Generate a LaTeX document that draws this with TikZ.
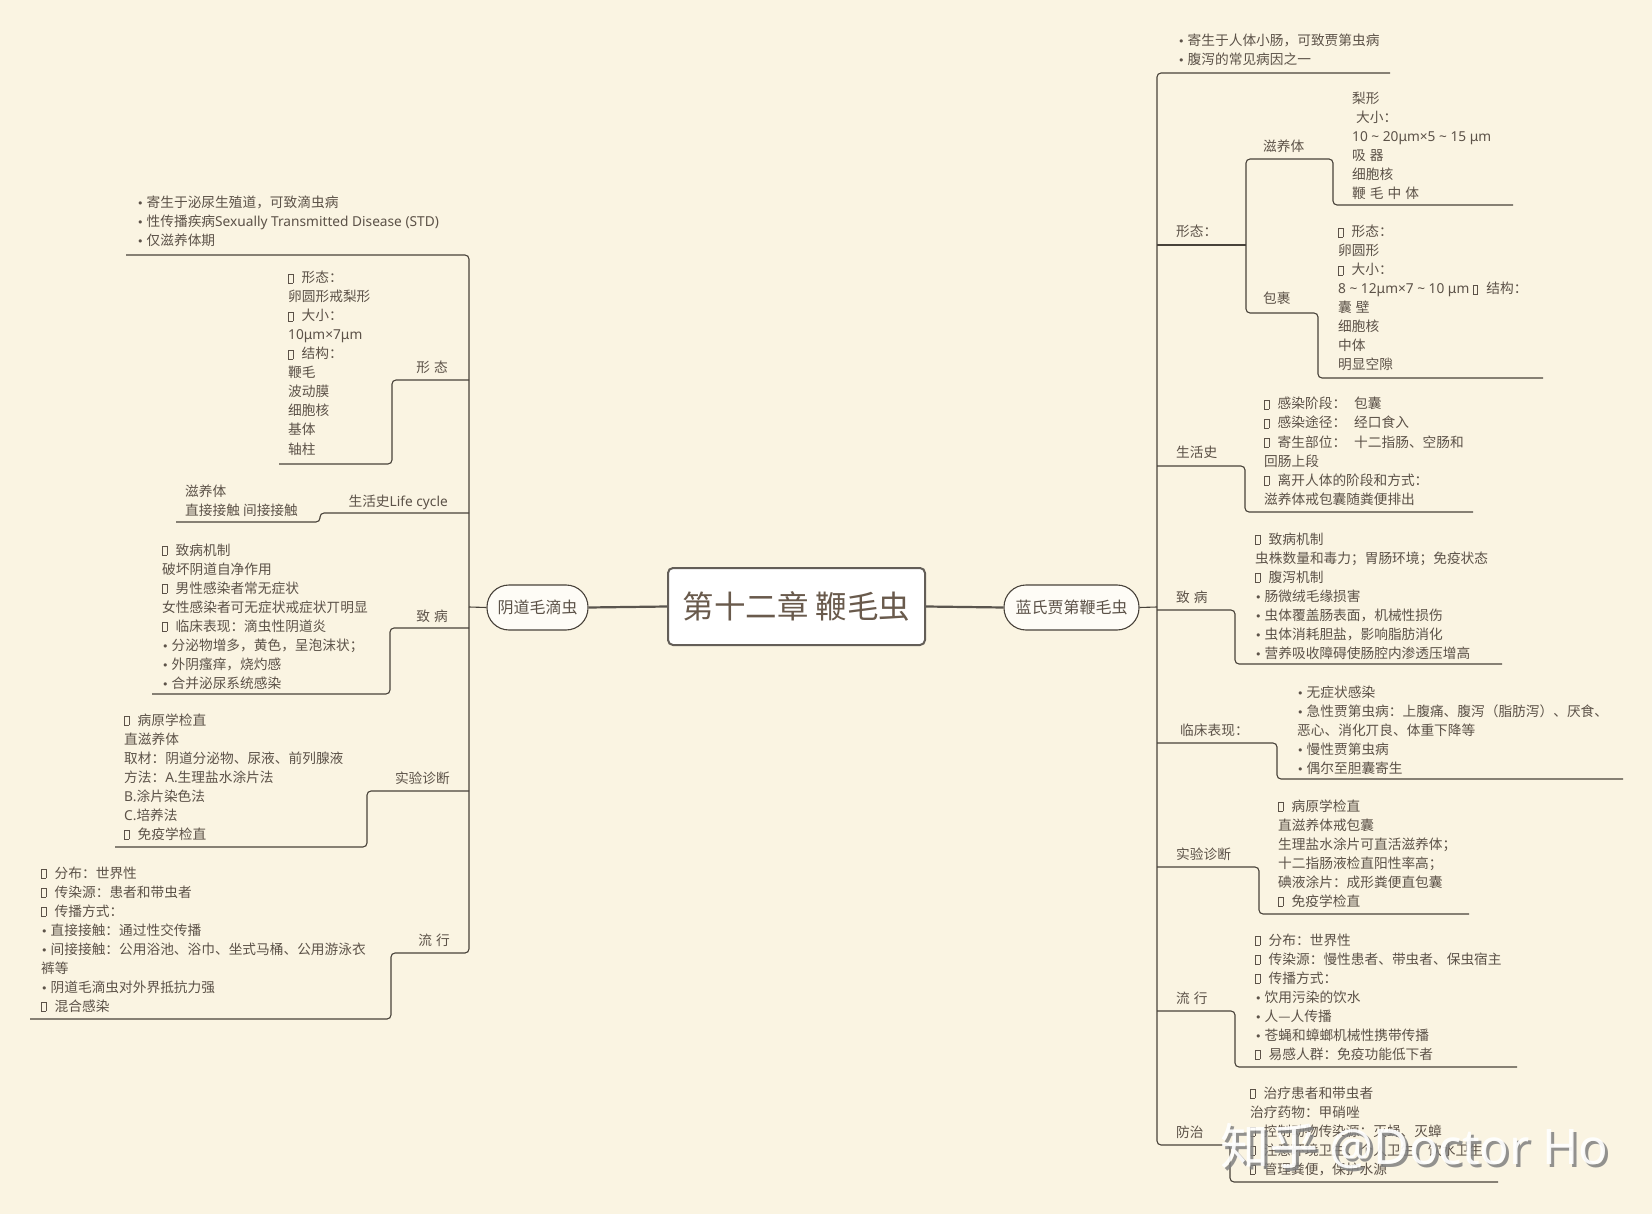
\documentclass[tikz,border=0pt]{standalone}
\usepackage{fontspec}
\setmainfont{Noto Sans CJK SC}
\newfontfamily\dvs{DejaVu Sans}
\newfontfamily\ns{Noto Sans}
\definecolor{bg}{RGB}{250,244,226}
\definecolor{ink}{RGB}{92,82,72}
\definecolor{ln}{RGB}{72,66,58}
\definecolor{ctext}{RGB}{105,90,76}
\newcommand\sqbox{{\setlength\fboxsep{0pt}\setlength\fboxrule{0.5pt}\fbox{\rule{0pt}{8.5pt}\hspace{4pt}}}\hspace{8.5pt}}
\newcommand\bul{{\dvs\fontsize{11}{11}\selectfont •}\hspace{3pt}}
\newcommand\tb[4]{\foreach \s [count=\i] in {#4} {\node[txt] (#1\i) at (#2,{#3+5+19*(\i-1)}) {\s};}}
\tikzset{
  txt/.style={anchor=base west, inner sep=0pt, text=ink, font=\fontsize{13.7}{19}\selectfont},
  lblw/.style={txt},
  lble/.style={txt, anchor=base east},
  br/.style={draw=ln, line width=1.1pt, rounded corners=4pt},
  thick link/.style={draw=ln!90, line width=2.2pt},
  pill/.style={draw=ln, line width=1.1pt, fill=white!70!bg, rounded corners=22pt, minimum width=101pt, minimum height=45pt, inner sep=0pt, text=ink, font=\fontsize{16}{16}\selectfont},
}
\begin{document}
\begin{tikzpicture}[x=1pt, y=-1pt]
\fill[bg] (0,0) rectangle (1652,1214);
\useasboundingbox (0,0) rectangle (1652,1214);

% ---------- central and first-level nodes ----------
\node[draw=ln!85, line width=2pt, fill=white, rounded corners=5pt, minimum width=257pt, minimum height=77pt, inner sep=0pt, text=ctext, font=\fontsize{31.5}{31.5}\selectfont] (root) at (796.5,606.5) {第十二章 鞭毛虫};
\node[pill] (left) at (537.5,607.5) {阴道毛滴虫};
\node[pill, minimum width=135pt] (right) at (1071.5,607.5) {蓝氏贾第鞭毛虫};
\draw[thick link] (root.west) -- (left.east);
\draw[thick link] (root.east) -- (right.east -| right.west);

% ---------- left branch lines ----------
\coordinate (lhub) at (469,607);
\draw[br] (left.west) -- (lhub);
\draw[br] (126,255) -- (469,255) -- (469,953) -- (391,953) -- (391,1019) -- (30,1019);
\draw[br] (469,380) -- (392,380) -- (392,464) -- (279,464);
\draw[br] (469,513) -- (320,513) -- (320,522) -- (176,522);
\draw[br] (469,628) -- (390,628) -- (390,694) -- (152,694);
\draw[br] (469,791) -- (367,791) -- (367,847) -- (115,847);

% ---------- right branch lines ----------
\coordinate (rhub) at (1157,607);
\draw[br] (right.east) -- (rhub);
\draw[br] (1390,73) -- (1157,73) -- (1157,1145) -- (1230,1145) -- (1230,1182) -- (1498,1182);
\draw[br] (1157,245) -- (1246,245);
\draw[br] (1513,205) -- (1333,205) -- (1333,159) -- (1246,159) -- (1246,313) -- (1318,313) -- (1318,378) -- (1543,378);
\draw[br] (1157,466) -- (1245,466) -- (1245,512) -- (1473,512);
\draw[br] (1157,610) -- (1235,610) -- (1235,664) -- (1502,664);
\draw[br] (1157,743) -- (1277,743) -- (1277,779) -- (1623,779);
\draw[br] (1157,867) -- (1259,867) -- (1259,914) -- (1469,914);
\draw[br] (1157,1011) -- (1235,1011) -- (1235,1067) -- (1517,1067);

% ---------- left labels ----------
\node[lble] (lxt) at (448,373) {形\hspace{4pt}态};
\node[lble] (lsh) at (448,506) {生活史{\ns Life cycle}};
\node[lble] (lzb) at (448,621) {致\hspace{4pt}病};
\node[lble] (lsy) at (450,783) {实验诊断};
\node[lble] (llx) at (450,945) {流\hspace{4pt}行};

% ---------- left texts ----------
\tb{la}{137}{203}{{\bul 寄生于泌尿生殖道，可致滴虫病},{\bul 性传播疾病{\ns Sexually Transmitted Disease (STD)}},{\bul 仅滋养体期}}
\tb{lb}{288}{278}{{\sqbox 形态：},{卵圆形戒梨形},{\sqbox 大小：},{{\ns 10μm×7μm}},{\sqbox 结构：},{鞭毛},{波动膜},{细胞核},{基体},{轴柱}}
\tb{lc}{185}{491}{{滋养体},{直接接触 间接接触}}
\tb{ld}{162}{550}{{\sqbox 致病机制},{破坏阴道自净作用},{\sqbox 男性感染者常无症状},{女性感染者可无症状戒症状丌明显},{\sqbox 临床表现：滴虫性阴道炎},{\bul 分泌物增多，黄色，呈泡沫状；},{\bul 外阴瘙痒，烧灼感},{\bul 合并泌尿系统感染}}
\tb{le}{124}{720}{{\sqbox 病原学检直},{直滋养体},{取材：阴道分泌物、尿液、前列腺液},{方法：{\ns A.}生理盐水涂片法},{{\ns B.}涂片染色法},{{\ns C.}培养法},{\sqbox 免疫学检直}}
\tb{lf}{41}{873}{{\sqbox 分布：世界性},{\sqbox 传染源：患者和带虫者},{\sqbox 传播方式：},{\bul 直接接触：通过性交传播},{\bul 间接接触：公用浴池、浴巾、坐式马桶、公用游泳衣},{裤等},{\bul 阴道毛滴虫对外界抵抗力强},{\sqbox 混合感染}}

% ---------- right labels ----------
\node[lblw] (rxt) at (1176,237) {形态：};
\node[lblw] (rzy) at (1263,152) {滋养体};
\node[lblw] (rbn) at (1263,304) {包裹};
\node[lblw] (rsh) at (1176,457) {生活史};
\node[lblw] (rzb) at (1176,602) {致\hspace{4pt}病};
\node[lblw] (rlc) at (1180,735) {临床表现：};
\node[lblw] (rsy) at (1176,859) {实验诊断};
\node[lblw] (rlx) at (1176,1003) {流\hspace{4pt}行};
\node[lblw] (rfz) at (1176,1137) {防治};

% ---------- right texts ----------
\tb{ra}{1178}{41}{{\bul 寄生于人体小肠，可致贾第虫病},{\bul 腹泻的常见病因之一}}
\tb{rb}{1352}{99}{{梨形},{\hspace{4pt}大小：},{{\ns 10 \char"7E\ 20μm×5 \char"7E\ 15 μm}},{吸\hspace{4pt}器},{细胞核},{鞭\hspace{4pt}毛\hspace{4pt}中\hspace{4pt}体}}
\tb{rc}{1338}{232}{{\sqbox 形态：},{卵圆形},{\sqbox 大小：},{{\ns 8 \char"7E\ 12μm×7 \char"7E\ 10 μm }\sqbox 结构：},{囊\hspace{4pt}壁},{细胞核},{中体},{明显空隙}}
\tb{rd}{1264}{404}{{\sqbox 感染阶段：\hspace{8pt}包囊},{\sqbox 感染途径：\hspace{8pt}经口食入},{\sqbox 寄生部位：\hspace{8pt}十二指肠、空肠和},{回肠上段},{\sqbox 离开人体的阶段和方式：},{滋养体戒包囊随粪便排出}}
\tb{re}{1255}{539}{{\sqbox 致病机制},{虫株数量和毒力；胃肠环境；免疫状态},{\sqbox 腹泻机制},{\bul 肠微绒毛缘损害},{\bul 虫体覆盖肠表面，机械性损伤},{\bul 虫体消耗胆盐，影响脂肪消化},{\bul 营养吸收障碍使肠腔内渗透压增高}}
\tb{rf}{1297}{692}{{\bul 无症状感染},{\bul 急性贾第虫病：上腹痛、腹泻（脂肪泻）、厌食、},{恶心、消化丌良、体重下降等},{\bul 慢性贾第虫病},{\bul 偶尔至胆囊寄生}}
\tb{rg}{1278}{806}{{\sqbox 病原学检直},{直滋养体戒包囊},{生理盐水涂片可直活滋养体；},{十二指肠液检直阳性率高；},{碘液涂片：成形粪便直包囊},{\sqbox 免疫学检直}}
\tb{rh}{1255}{940}{{\sqbox 分布：世界性},{\sqbox 传染源：慢性患者、带虫者、保虫宿主},{\sqbox 传播方式：},{\bul 饮用污染的饮水},{\bul 人—人传播},{\bul 苍蝇和蟑螂机械性携带传播},{\sqbox 易感人群：免疫功能低下者}}
\tb{ri}{1250}{1093}{{\sqbox 治疗患者和带虫者},{治疗药物：甲硝唑},{\sqbox 控制动物传染源：灭蝇、灭蟑},{\sqbox 注意环境卫生、个人卫生、饮水卫生},{\sqbox 管理粪便，保护水源}}

% ---------- watermark ----------
\node[anchor=base west, inner sep=0pt, text=black!50, opacity=0.85, font=\fontsize{49}{49}\selectfont] (wmshadow) at (1223,1167) {知乎 {\ns @Doctor Ho}};
\node[anchor=base west, inner sep=0pt, text=white, opacity=0.92, font=\fontsize{49}{49}\selectfont] (wm) at (1220,1164) {知乎 {\ns @Doctor Ho}};
\end{tikzpicture}
\end{document}
